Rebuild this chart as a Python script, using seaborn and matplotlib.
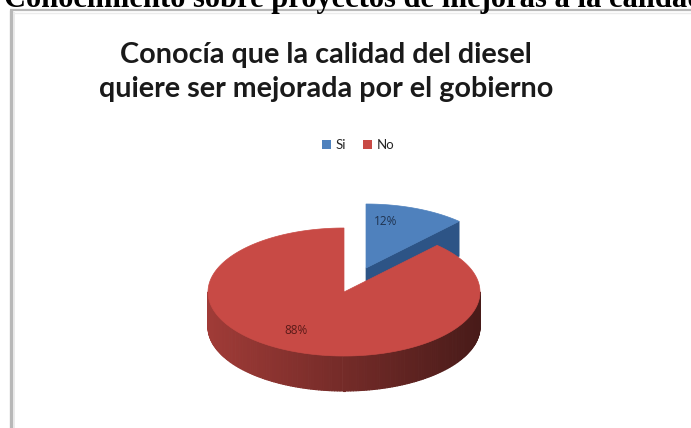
import numpy as np
import matplotlib
matplotlib.use("Agg")
import matplotlib.pyplot as plt
import seaborn as sns
from matplotlib.patches import Polygon, Patch
from matplotlib.collections import PolyCollection

# ---- data ----
categories = ["Si", "No"]
shares = [12, 88]
label_texts = ["12%", "88%"]
header = "Conocimiento sobre proyectos de mejoras a la calidad del diesel"
title_lines = ["Conocía que la calidad del diesel", "quiere ser mejorada por el gobierno"]

sns.set_theme(style="white")
plt.rcParams["font.family"] = ["Lato", "DejaVu Sans"]

W, H = 691, 428
fig = plt.figure(figsize=(W / 100, H / 100), dpi=100)
ax = fig.add_axes([0, 0, 1, 1])
ax.set_xlim(0, W)
ax.set_ylim(H, 0)
ax.axis("off")

# document header (runs past the page edges)
ax.text(4, 6.5, header, fontsize=22, fontweight="bold",
        family=["Liberation Serif"], va="baseline", ha="left", color="black")

# chart frame
ax.plot([11, 11], [10, H + 5], color="#b8b8b8", lw=2.4, solid_capstyle="butt")
ax.plot([14, 14], [12, H + 5], color="#e6e6e6", lw=1.2, solid_capstyle="butt")
ax.plot([10, W + 5], [10, 10], color="#b8b8b8", lw=1.6, solid_capstyle="butt")
ax.plot([13, W + 5], [12.5, 12.5], color="#ececec", lw=1.0, solid_capstyle="butt")

# title
ax.text(326, 63, title_lines[0], fontsize=20.7, fontweight="bold", ha="center",
        va="baseline", color="#1a1a1a")
ax.text(326, 97, title_lines[1], fontsize=20.7, fontweight="bold", ha="center",
        va="baseline", color="#1a1a1a")

# ---- 3D pie ----
cx, cy, a, b, depth = 344, 292, 136, 64, 35
explode = {"Si": (22, -24), "No": (0, 0)}
top_cols = {"Si": "#4f81bd", "No": "#c84a45"}
cut_cols = {"Si": "#2d5486", "No": "#7a2221"}


def rim(theta_deg, dx=0, dy=0):
    t = np.radians(theta_deg)
    return cx + dx + a * np.sin(t), cy + dy - b * np.cos(t)


def side_color(theta_deg, base):
    # lighter on the left flank, darker toward the right
    t = np.radians(theta_deg)
    f = 0.58 + 0.22 * (-np.sin(t))
    r, g, bl = matplotlib.colors.to_rgb(base)
    return (r * f, g * f, bl * f)


fractions = np.array(shares, dtype=float) / sum(shares)
starts = np.concatenate([[0], np.cumsum(fractions)[:-1]]) * 360
ends = np.cumsum(fractions) * 360

# draw back slice first (Si), then front slice (No)
for cat, s, e in zip(categories, starts, ends):
    dx, dy = explode[cat]
    # outer side wall: visible where the rim faces the viewer (90..270 deg)
    lo, hi = max(s, 90), min(e, 270)
    if hi > lo:
        th = np.linspace(lo, hi, 160)
        strips, cols = [], []
        for t0, t1 in zip(th[:-1], th[1:]):
            x0, y0 = rim(t0, dx, dy)
            x1, y1 = rim(t1, dx, dy)
            strips.append([(x0, y0), (x1, y1), (x1, y1 + depth), (x0, y0 + depth)])
            cols.append(side_color((t0 + t1) / 2, top_cols[cat]))
        ax.add_collection(PolyCollection(strips, facecolors=cols, edgecolors="face",
                                         lw=0.8))
    # cut face at the end angle faces the viewer for the small slice
    if e < 90:
        ex, ey = rim(e, dx, dy)
        ax.add_patch(Polygon([(cx + dx, cy + dy), (ex, ey), (ex, ey + depth),
                              (cx + dx, cy + dy + depth)], closed=True,
                             facecolor=cut_cols[cat], edgecolor=cut_cols[cat], lw=0.5))
    # top face
    th = np.linspace(s, e, 200)
    pts = [(cx + dx, cy + dy)] + [rim(t, dx, dy) for t in th]
    ax.add_patch(Polygon(pts, closed=True, facecolor=top_cols[cat],
                         edgecolor=top_cols[cat], lw=0.5))

# data labels
ax.text(386, 221, label_texts[0], fontsize=8.5, ha="center", va="center",
        color="#1f3350", family=["Open Sans"])
ax.text(296, 330, label_texts[1], fontsize=8.5, ha="center", va="center",
        color="#5a1a18", family=["Open Sans"])

# legend
handles = [Patch(facecolor=top_cols[c], edgecolor="none") for c in categories]
ax.legend(handles, categories, loc="center", bbox_to_anchor=(358 / W, 1 - 145 / H),
          ncol=2, frameon=False, fontsize=9.5, handlelength=0.7, handleheight=0.7,
          handletextpad=0.35, columnspacing=1.3, borderaxespad=0)

fig.savefig("out.png", dpi=100)
